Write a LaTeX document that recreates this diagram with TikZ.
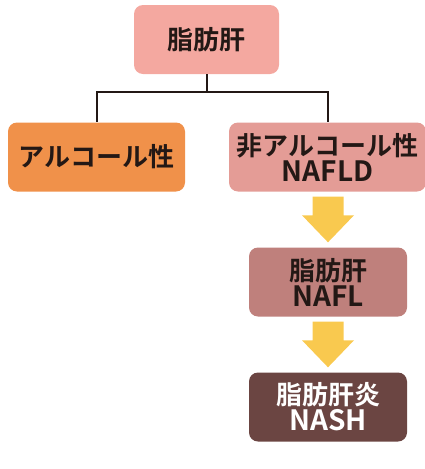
\documentclass[tikz,border=0pt]{standalone}
\usepackage{fontspec}
\setmainfont{Noto Sans CJK JP Bold}
\usetikzlibrary{positioning, calc}

\definecolor{fattop}{HTML}{F4A8A0}
\definecolor{alcohol}{HTML}{F0914A}
\definecolor{nafldcol}{HTML}{E49C96}
\definecolor{naflcol}{HTML}{BF807C}
\definecolor{nashcol}{HTML}{6B4542}
\definecolor{arrowyellow}{HTML}{F9C94F}
\definecolor{inkdark}{HTML}{231815}

\newcommand\abbr[1]{{\fontsize{28}{26}\selectfont #1}}

\tikzset{
  box/.style={rounded corners=9pt, minimum height=69pt, align=center,
    text=inkdark, font=\fontsize{26}{26}\selectfont, inner sep=0pt},
  tree/.style={draw=inkdark, line width=2pt},
  fatarrow/.style={fill=arrowyellow, draw=none}
}

\newcommand\blockarrow[2]{%
  \fill[fatarrow] ($(#1.south -| #2.north)+(-15.5,5)$) -- ($(#1.south -| #2.north)+(15.5,5)$)
    -- ($(#2.north)+(15.5,-32)$) -- ($(#2.north)+(26,-32)$) -- ($(#2.north)+(0,-5)$)
    -- ($(#2.north)+(-26,-32)$) -- ($(#2.north)+(-15.5,-32)$) -- cycle;}

\begin{document}
\begin{tikzpicture}[x=1pt,y=-1pt]

\useasboundingbox (0,0) rectangle (425,469);

% boxes
\node[box, fill=fattop, minimum width=145pt] (fatty) at (206.5,39.5) {脂肪肝};
\node[box, fill=alcohol, minimum width=177pt] (alco) at (96.5,157) {アルコール性};
\node[box, fill=nafldcol, minimum width=197pt] (nafld) at (327.5,157) {非アルコール性\\\abbr{NAFLD}};
\node[box, fill=naflcol, minimum width=158pt] (nafl) at (328,282) {脂肪肝\\\abbr{NAFL}};
\node[box, fill=nashcol, minimum width=158pt, text=white] (nash) at (328,407) {脂肪肝炎\\\abbr{NASH}};

% tree
\coordinate (split) at ($(fatty.south)+(0,18)$);
\draw[tree] (fatty.south) -- (split);
\draw[tree] (split) -| (alco.north);
\draw[tree] (split) -| (nafld.north);

% arrows
\blockarrow{nafld}{nafl}
\blockarrow{nafl}{nash}

\end{tikzpicture}
\end{document}
